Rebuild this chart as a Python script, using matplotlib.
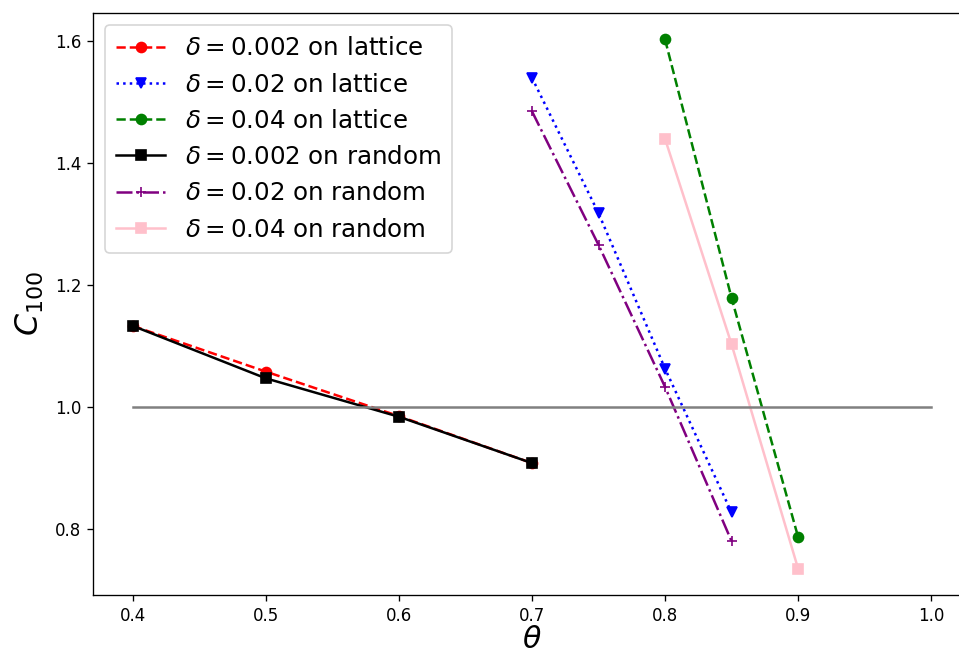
import matplotlib
matplotlib.use("Agg")
import matplotlib.pyplot as plt

theta_a = [0.4, 0.5, 0.6, 0.7]
theta_b = [0.7, 0.75, 0.8, 0.85]
theta_c = [0.8, 0.85, 0.9]

lat_002 = [1.133, 1.058, 0.985, 0.908]
lat_02 = [1.540, 1.318, 1.063, 0.827]
lat_04 = [1.603, 1.179, 0.787]
rnd_002 = [1.133, 1.047, 0.984, 0.908]
rnd_02 = [1.485, 1.266, 1.033, 0.780]
rnd_04 = [1.440, 1.103, 0.735]

ref_x = [0.4, 1.0]
ref_y = [1.0, 1.0]

dpi = 120
fig = plt.figure(figsize=(959 / dpi, 655 / dpi), dpi=dpi)
ax = fig.add_axes([93 / 959, 1 - 595 / 655, 878 / 959, 582 / 655])

ax.plot(theta_a, lat_002, 'r--o', label=r'$\delta = 0.002$ on lattice')
ax.plot(theta_b, lat_02, 'b:v', label=r'$\delta = 0.02$ on lattice')
ax.plot(theta_c, lat_04, 'g--o', label=r'$\delta = 0.04$ on lattice')
ax.plot(theta_a, rnd_002, 'k-s', label=r'$\delta = 0.002$ on random')
ax.plot(theta_b, rnd_02, '-.+', color='purple', label=r'$\delta = 0.02$ on random')
ax.plot(theta_c, rnd_04, '-s', color='pink', label=r'$\delta = 0.04$ on random')
ax.plot(ref_x, ref_y, color='gray')

ax.set_xlabel(r'$\theta$', fontsize=18, labelpad=0)
ax.set_ylabel(r'$C_{100}$', fontsize=19, labelpad=5)
ax.legend(loc='upper left', fontsize=14.7, borderpad=0.45)

fig.savefig('out.png', dpi=dpi)
